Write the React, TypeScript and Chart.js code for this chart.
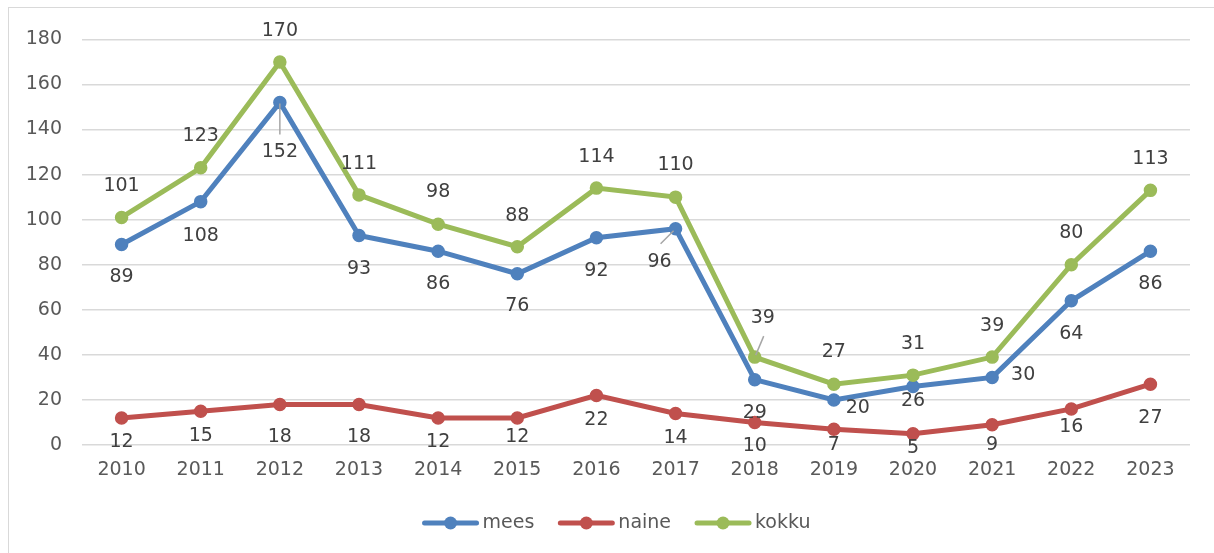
import { useEffect, useRef } from "react";
import { Chart, registerables } from "chart.js";

Chart.register(...registerables);

const years = ["2010", "2011", "2012", "2013", "2014", "2015", "2016", "2017", "2018", "2019", "2020", "2021", "2022", "2023"];
const mees = [89, 108, 152, 93, 86, 76, 92, 96, 29, 20, 26, 30, 64, 86];
const naine = [12, 15, 18, 18, 12, 12, 22, 14, 10, 7, 5, 9, 16, 27];
const kokku = [101, 123, 170, 111, 98, 88, 114, 110, 39, 27, 31, 39, 80, 113];
const seriesNames = ["mees", "naine", "kokku"];
const seriesColors = ["#4F81BD", "#C0504D", "#9BBB59"];
const yMin = 0;
const yMax = 180;
const yStep = 20;

// label placement (dx, dy from the point centre) – styling, not data
const meesLabelOffsets: [number, number][] = [
  [0, 33], [0, 34], [0, 50], [0, 34], [0, 33], [0, 32], [0, 33],
  [-16, 33], [0, 33], [24, 8], [0, 15], [31, -2], [0, 33], [0, 33],
];
const naineLabelOffsets: [number, number][] = [
  [0, 24], [0, 25], [0, 33], [0, 33], [0, 24], [0, 19], [0, 25],
  [0, 25], [0, 24], [0, 16], [0, 14], [0, 20], [0, 18], [0, 34],
];
const kokkuLabelOffsets: [number, number][] = [
  [0, -31], [0, -32], [0, -31], [0, -31], [0, -32], [0, -31], [0, -31],
  [0, -32], [8, -39], [0, -32], [0, -31], [0, -31], [0, -32], [0, -31],
];
const leaderLines = [
  { series: 0, index: 2, from: [0, 1], to: [0, 32] },
  { series: 0, index: 7, from: [-2, 2], to: [-15, 15] },
  { series: 2, index: 8, from: [1, -2], to: [9, -21] },
];

const FONT = "'DejaVu Sans', sans-serif";
const AXIS_COLOR = "#595959";
const LABEL_COLOR = "#404040";

const labelsPlugin = {
  id: "pointLabels",
  afterDatasetsDraw(chart: any) {
    const ctx = chart.ctx;
    const offsets = [meesLabelOffsets, naineLabelOffsets, kokkuLabelOffsets];
    ctx.save();
    ctx.strokeStyle = "#A6A6A6";
    ctx.lineWidth = 1.5;
    leaderLines.forEach((l) => {
      const pt = chart.getDatasetMeta(l.series).data[l.index];
      ctx.beginPath();
      ctx.moveTo(pt.x + l.from[0], pt.y + l.from[1]);
      ctx.lineTo(pt.x + l.to[0], pt.y + l.to[1]);
      ctx.stroke();
    });
    ctx.font = `19px ${FONT}`;
    ctx.fillStyle = LABEL_COLOR;
    ctx.textAlign = "center";
    ctx.textBaseline = "middle";
    chart.data.datasets.forEach((ds: any, di: number) => {
      const meta = chart.getDatasetMeta(di);
      meta.data.forEach((pt: any, i: number) => {
        const [dx, dy] = offsets[di][i];
        ctx.fillText(String(ds.data[i]), pt.x + dx, pt.y + dy);
      });
    });
    ctx.restore();
  },
};

const legendPlugin = {
  id: "lineLegend",
  afterDraw(chart: any) {
    const ctx = chart.ctx;
    ctx.save();
    ctx.font = `19px ${FONT}`;
    const lineW = 56;
    const gapText = 4;
    const gapItem = 24;
    const widths = seriesNames.map((n) => ctx.measureText(n).width);
    const total = widths.reduce((a, w) => a + lineW + gapText + w, 0) + gapItem * (seriesNames.length - 1);
    let x = chart.width / 2 + 5 - total / 2;
    const y = 515;
    seriesNames.forEach((name, i) => {
      ctx.strokeStyle = seriesColors[i];
      ctx.fillStyle = seriesColors[i];
      ctx.lineWidth = 5;
      ctx.lineCap = "round";
      ctx.beginPath();
      ctx.moveTo(x + 2, y);
      ctx.lineTo(x + lineW - 2, y);
      ctx.stroke();
      ctx.beginPath();
      ctx.arc(x + lineW / 2, y, 6.5, 0, Math.PI * 2);
      ctx.fill();
      ctx.fillStyle = AXIS_COLOR;
      ctx.textAlign = "left";
      ctx.textBaseline = "middle";
      ctx.fillText(name, x + lineW + gapText, y);
      x += lineW + gapText + widths[i] + gapItem;
    });
    ctx.restore();
  },
};

export default function App() {
  const canvasRef = useRef<HTMLCanvasElement | null>(null);

  useEffect(() => {
    if (!canvasRef.current) return;
    const values = [mees, naine, kokku];
    const chart = new Chart(canvasRef.current, {
      type: "line",
      data: {
        labels: years,
        datasets: values.map((v, i) => ({
          label: seriesNames[i],
          data: v,
          borderColor: seriesColors[i],
          backgroundColor: seriesColors[i],
          pointBackgroundColor: seriesColors[i],
          pointBorderColor: seriesColors[i],
          borderWidth: 5,
          pointRadius: 6,
          pointBorderWidth: 1.5,
          tension: 0,
          order: 3 - i,
        })),
      },
      options: {
        responsive: false,
        animation: false,
        events: [],
        layout: { padding: { left: 0, right: 24, top: 29, bottom: 0 } },
        plugins: {
          legend: { display: false },
          tooltip: { enabled: false },
        },
        scales: {
          x: {
            offset: true,
            grid: { display: false, drawTicks: false, offset: true },
            border: { display: false },
            ticks: { color: AXIS_COLOR, font: { family: FONT, size: 19 }, padding: 14, maxRotation: 0 },
            afterFit: (s: any) => { s.height = 108; },
          },
          y: {
            min: yMin,
            max: yMax,
            grid: { color: "#D9D9D9", lineWidth: 1.5, drawTicks: false },
            border: { display: false },
            ticks: { stepSize: yStep, color: AXIS_COLOR, font: { family: FONT, size: 19 }, padding: 20 },
            afterFit: (s: any) => { s.width = 73; },
          },
        },
      },
      plugins: [labelsPlugin, legendPlugin],
    } as any);
    return () => chart.destroy();
  }, []);

  return (
    <div
      style={{
        position: "absolute",
        left: 8,
        top: 7,
        width: 1206,
        height: 546,
        boxSizing: "border-box",
        borderLeft: "1px solid #D9D9D9",
        borderTop: "1px solid #D9D9D9",
        background: "#fff",
      }}
    >
      <canvas ref={canvasRef} width={1205} height={545} style={{ display: "block" }} />
    </div>
  );
}
